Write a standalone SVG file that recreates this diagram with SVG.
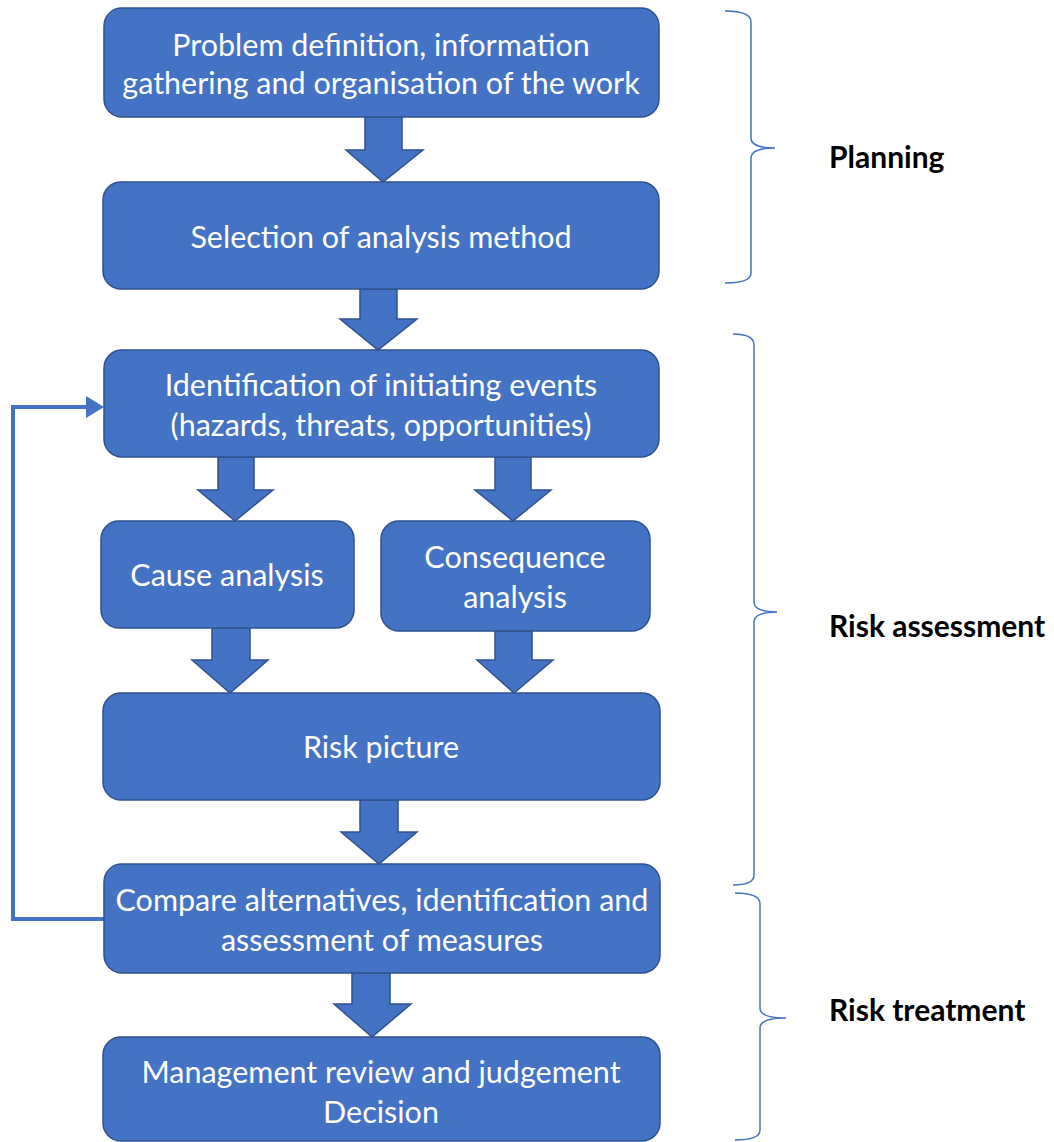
<svg xmlns="http://www.w3.org/2000/svg" width="1054" height="1142" viewBox="0 0 1054 1142">
<defs>
<style>
.box{fill:#4472C4;stroke:#2F528F;stroke-width:1.5}
.arr{fill:#4472C4;stroke:#2F528F;stroke-width:1.5;stroke-linejoin:miter}
.t{font-family:Lato,"Open Sans","Liberation Sans",sans-serif;font-size:30.5px;fill:#ffffff;text-anchor:middle}
.lbl{font-family:Lato,"Open Sans","Liberation Sans",sans-serif;font-size:30px;font-weight:bold;fill:#000000}
.brace{fill:none;stroke:#4472C4;stroke-width:1.5}
.fb{fill:none;stroke:#4472C4;stroke-width:4}
</style>
</defs>
<rect width="1054" height="1142" fill="#ffffff"/>

<g id="connectors">
<polygon class="arr" points="365,117 402,117 402,150 423,150 383,182 346,150 365,150"/>
<polygon class="arr" points="360,289 397,289 397,319 417,319 378,350 340,319 360,319"/>
<polygon class="arr" points="218,457 254,457 254,490 273,490 235,521 198,490 218,490"/>
<polygon class="arr" points="495,457 531,457 531,490 551,490 513,521 475,490 495,490"/>
<polygon class="arr" points="212,628 250,628 250,660 268,660 230,693 192,660 212,660"/>
<polygon class="arr" points="495,631 532,631 532,660 553,660 514,693 477,660 495,660"/>
<polygon class="arr" points="360,800 398,800 398,832 417,832 379,864 341,832 360,832"/>
<polygon class="arr" points="352,973 390,973 390,1004 411,1004 372,1037 334,1004 352,1004"/>
<path class="fb" d="M104,919 H13 V407 H88"/>
<polygon points="86,396 104,407 86,418" fill="#4472C4"/>
</g>

<g id="n1">
<rect class="box" x="104" y="8" width="555" height="109" rx="18"/>
<text class="t" x="381" y="56">Problem definition, information</text>
<text class="t" x="381" y="94">gathering and organisation of the work</text>
</g>
<g id="n2">
<rect class="box" x="103" y="182" width="556" height="107" rx="18"/>
<text class="t" x="381" y="248">Selection of analysis method</text>
</g>
<g id="n3">
<rect class="box" x="104" y="350" width="555" height="107" rx="18"/>
<text class="t" x="381" y="396">Identification of initiating events</text>
<text class="t" x="381" y="436">(hazards, threats, opportunities)</text>
</g>
<g id="n4">
<rect class="box" x="101" y="521" width="253" height="107" rx="18"/>
<text class="t" x="227" y="586">Cause analysis</text>
</g>
<g id="n5">
<rect class="box" x="381" y="521" width="269" height="110" rx="18"/>
<text class="t" x="515" y="568">Consequence</text>
<text class="t" x="515" y="608">analysis</text>
</g>
<g id="n6">
<rect class="box" x="103" y="693" width="557" height="107" rx="18"/>
<text class="t" x="381" y="758">Risk picture</text>
</g>
<g id="n7">
<rect class="box" x="104" y="864" width="556" height="109" rx="18"/>
<text class="t" x="382" y="911">Compare alternatives, identification and</text>
<text class="t" x="382" y="951">assessment of measures</text>
</g>
<g id="n8">
<rect class="box" x="103" y="1037" width="557" height="104" rx="18"/>
<text class="t" x="381" y="1083">Management review and judgement</text>
<text class="t" x="381" y="1123">Decision</text>
</g>

<g id="brace-planning">
<path class="brace" d="M725,11 Q751,11 751,22 V138 Q751,148 775,148 Q751,148 751,158 V273 Q751,283 725,283"/>
<text class="lbl" x="829" y="168">Planning</text>
</g>
<g id="brace-assessment">
<path class="brace" d="M733,334 Q754,334 754,345 V602 Q754,612 777,612 Q754,612 754,622 V875 Q754,885 733,885"/>
<text class="lbl" x="829" y="637">Risk assessment</text>
</g>
<g id="brace-treatment">
<path class="brace" d="M735,893 Q760,893 760,904 V1008 Q760,1018 786,1018 Q760,1018 760,1028 V1130 Q760,1140 735,1140"/>
<text class="lbl" x="829" y="1021">Risk treatment</text>
</g>
</svg>
